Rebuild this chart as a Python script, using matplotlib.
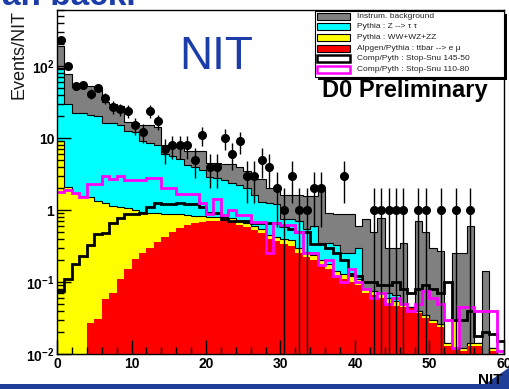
import numpy as np
import matplotlib.pyplot as plt
from matplotlib.patches import Rectangle, Polygon
from matplotlib.ticker import FixedLocator, FixedFormatter, LogLocator, MultipleLocator, NullFormatter

plt.rcParams['font.family'] = ['Liberation Sans', 'DejaVu Sans']
plt.rcParams['mathtext.fontset'] = 'custom'
plt.rcParams['mathtext.rm'] = 'Liberation Sans:bold'
plt.rcParams['mathtext.it'] = 'Liberation Sans:bold'
plt.rcParams['mathtext.bf'] = 'Liberation Sans:bold'

# NIT bins 0..60, width 1
edges = np.arange(0, 61)

# stacked backgrounds (events per bin), bottom to top
ttbar = [0, 0, 0, 0, 0.027, 0.031, 0.058, 0.07, 0.11, 0.15,
         0.21, 0.25, 0.30, 0.36, 0.42, 0.50, 0.56, 0.62, 0.66, 0.68,
         0.70, 0.70, 0.72, 0.70, 0.62, 0.58, 0.52, 0.48, 0.40, 0.37,
         0.34, 0.32, 0.25, 0.22, 0.20, 0.17, 0.15, 0.12, 0.11, 0.10,
         0.09, 0.07, 0.065, 0.06, 0.05, 0.047, 0.045, 0.043, 0.037, 0.032,
         0.027, 0.024, 0.013, 0.012, 0.011, 0.013, 0.013, 0.008, 0.011, 0.009]
diboson = [9.0, 2.1, 1.7, 1.55, 1.47, 1.32, 1.19, 1.08, 0.99, 0.90,
           0.79, 0.70, 0.60, 0.54, 0.46, 0.38, 0.31, 0.23, 0.17, 0.14,
           0.10, 0.10, 0.08, 0.08, 0.08, 0.07, 0.08, 0.07, 0.05, 0.05,
           0.06, 0.06, 0.05, 0.04, 0.04, 0.03, 0.03, 0.02, 0.02, 0.02,
           0.02, 0.01, 0.01, 0.01, 0.01, 0.008, 0.005, 0.002, 0.003, 0.003,
           0.003, 0.002, 0.001, 0.018, 0.001, 0.001, 0.001, 0.001, 0.001, 0.001]
ztautau = [86, 27.9, 20.3, 20.4, 19.5, 18.6, 14.8, 14.8, 13.9, 11.4,
           11.0, 8.05, 7.6, 7.1, 5.1, 4.7, 4.3, 3.35, 3.07, 2.78,
           2.1, 2.0, 1.8, 1.62, 1.5, 1.35, 1.0, 0.75, 0.8, 0.78,
           0.35, 0.37, 0.4, 0.29, 0.36, 0.15, 0.17, 0.19, 0.12, 0.13,
           0.19, 0, 0, 0, 0.01, 0.01, 0, 0, 0, 0,
           0, 0, 0, 0, 0, 0, 0, 0, 0, 0]
instrum = [95, 48, 33, 33, 31, 30, 16, 14, 13, 4.5,
           4.0, 6.0, 6.5, 6.0, 2.0, 2.4, 2.3, 2.3, 2.6, 2.9,
           1.6, 1.7, 1.7, 1.9, 1.8, 1.5, 1.1, 1.4, 0.75, 0.8,
           0.85, 0.85, 0.9, 1.0, 0.95, 1.6, 0.55, 0.55, 0.63, 0.63,
           0.30, 0.67, 0.42, 0.71, 0.23, 0.235, 0.30, 0, 0.66, 0.465,
           0.27, 0.244, 0, 0.22, 0.238, 0.586, 0, 0.131, 0, 0]

# signal expectations (not stacked)
stop_145_50 = [0.075, 0.11, 0.18, 0.23, 0.33, 0.46, 0.48, 0.66, 0.78, 0.88,
               0.88, 0.9, 1.1, 1.25, 1.2, 1.2, 1.25, 1.2, 1.2, 1.1,
               0.9, 0.9, 0.75, 0.7, 0.7, 0.7, 0.65, 0.65, 0.65, 0.65,
               0.6, 0.55, 0.5, 0.5, 0.34, 0.34, 0.3, 0.25, 0.2, 0.13,
               0.12, 0.1, 0.1, 0.09, 0.09, 0.1, 0.08, 0.07, 0.08, 0.09,
               0.08, 0.07, 0.1, 0.03, 0.03, 0.04, 0.018, 0.02, 0.019, 0.015]
stop_110_80 = [1.8, 1.9, 1.7, 1.5, 2.3, 2.3, 3.0, 2.7, 3.0, 2.6,
               2.6, 2.6, 2.8, 2.8, 2.0, 2.0, 1.65, 1.65, 1.65, 1.25,
               0.88, 1.4, 0.85, 1.0, 0.85, 0.85, 0.68, 0.68, 0.25, 0.65,
               0.62, 0.62, 0.5, 0.25, 0.25, 0.17, 0.2, 0.12, 0.1, 0.15,
               0.1, 0.08, 0.06, 0.07, 0.05, 0.06, 0.05, 0.04, 0.05, 0.075,
               0.06, 0.05, 0.03, 0.012, 0.045, 0.045, 0.04, 0.04, 0.04, 0.011]

# observed events
data = [230, 100, 53, 55, 41, 50, 36, 27, 25, 24,
        15, 12, 24, 17, 7, 8, 8, 8, 5, 11,
        4, 4, 10, 6, 9, 3, 3, 5, 4, 2,
        1, 3, 1, 1, 2, 2, 0, 0, 3, 0,
        0, 0, 1, 1, 1, 1, 1, 0, 1, 1,
        0, 1, 0, 1, 0, 1, 0, 0, 0, 0]

legend_labels = ["Instrum. background", "Pythia : Z --> \u03c4 \u03c4", "Pythia : WW+WZ+ZZ",
                 "Alpgen/Pythia : ttbar --> e \u03bc", "Comp/Pyth : Stop-Snu 145-50",
                 "Comp/Pyth : Stop-Snu 110-80"]

W, H = 510, 389
fig = plt.figure(figsize=(W / 100, H / 100), dpi=100)
ax = fig.add_axes([57 / W, 1 - 354 / H, (504 - 57) / W, (354 - 10) / H])

floor = 1e-4
stack = np.cumsum([ttbar, diboson, ztautau, instrum], axis=0)
colors = ['#ff0000', '#ffff00', '#00ffff', '#808080']
# draw like ROOT: top of stack first, each filled down to the floor
for k in range(3, -1, -1):
    top = np.maximum(stack[k], floor)
    ax.stairs(top, edges, baseline=floor, fill=True, color=colors[k], lw=0)
    if k > 0:
        ax.stairs(top, edges, baseline=None, color='black', lw=0.8)

ax.stairs(np.maximum(stop_145_50, floor), edges, baseline=None, color='black', lw=2)
ax.stairs(np.maximum(stop_110_80, floor), edges, baseline=None, color='#ff00ff', lw=2)

d = np.array(data, dtype=float)
centers = (edges[:-1] + edges[1:]) / 2
m = d > 0
ax.errorbar(centers[m], d[m], yerr=np.sqrt(d[m]), xerr=0.5, fmt='o', color='black',
            ms=5.5, elinewidth=1, capsize=0, zorder=5)

ax.set_yscale('log')
ax.set_xlim(0, 60)
ax.set_ylim(0.01, 600)
ax.yaxis.set_major_locator(FixedLocator([0.01, 0.1, 1, 10, 100]))
ax.yaxis.set_major_formatter(FixedFormatter([r'$10^{-2}$', r'$10^{-1}$', '1', '10', r'$10^{2}$']))
ax.yaxis.set_minor_locator(LogLocator(base=10, subs=np.arange(2, 10)))
ax.yaxis.set_minor_formatter(NullFormatter())
ax.xaxis.set_major_locator(MultipleLocator(10))
ax.xaxis.set_minor_locator(MultipleLocator(2))
ax.tick_params(which='both', direction='in', top=False, right=False, width=1)
ax.tick_params(which='major', length=10, labelsize=10, pad=2)
ax.tick_params(which='minor', length=5)
for lab in ax.get_xticklabels() + ax.get_yticklabels():
    lab.set_fontweight('bold')
for s in ax.spines.values():
    s.set_linewidth(1)

# overlay in figure pixels (y down) for legend and slide texts
ov = fig.add_axes([0, 0, 1, 1], zorder=10)
ov.set_xlim(0, W)
ov.set_ylim(H, 0)
ov.axis('off')

# ROOT style legend box with shadow
ov.add_patch(Rectangle((318, 14), 189, 66, facecolor='black', lw=0))
ov.add_patch(Rectangle((315, 11), 189, 66, facecolor='white', edgecolor='black', lw=0.8))
swatch_face = [colors[3], colors[2], colors[1], colors[0], 'white', 'white']
swatch_edge = ['black', 'black', 'black', 'black', 'black', '#ff00ff']
swatch_lw = [0.8, 0.8, 0.8, 0.8, 1.8, 1.8]
for i, lab in enumerate(legend_labels):
    yc = 16.3 + i * 10.6
    ov.add_patch(Rectangle((317, yc - 3.5), 33, 7, facecolor=swatch_face[i],
                           edgecolor=swatch_edge[i], lw=swatch_lw[i]))
    ov.text(357, yc, lab, fontsize=6, ha='left', va='center', color='#222222')

ov.text(405, 97, 'D0 Preliminary', fontsize=17, fontweight='bold', ha='center',
        va='baseline')
ov.text(216, 57, 'NIT', fontsize=33, color='#1c3ca8', ha='center', va='center')
ov.text(19, 10, 'Events/NIT', rotation=90, fontsize=13, ha='center', va='top',
        color='#1a1a1a')
ov.text(503, 387, 'NIT', fontsize=11, fontweight='bold', ha='right', va='bottom')
# slide decoration: clipped title above, blue band below
ov.text(2, 5, 'ar. back.', fontsize=24, fontweight='bold', color='#1c3ca8',
        ha='left', va='baseline', clip_on=True)
ov.add_patch(Rectangle((0, 384), W, 5, facecolor='#1f3f9a', lw=0))
ov.add_patch(Polygon([(478, H), (W, H), (W, 367)], closed=True, facecolor='#1f3f9a', lw=0))

fig.savefig('out.png', dpi=100)
